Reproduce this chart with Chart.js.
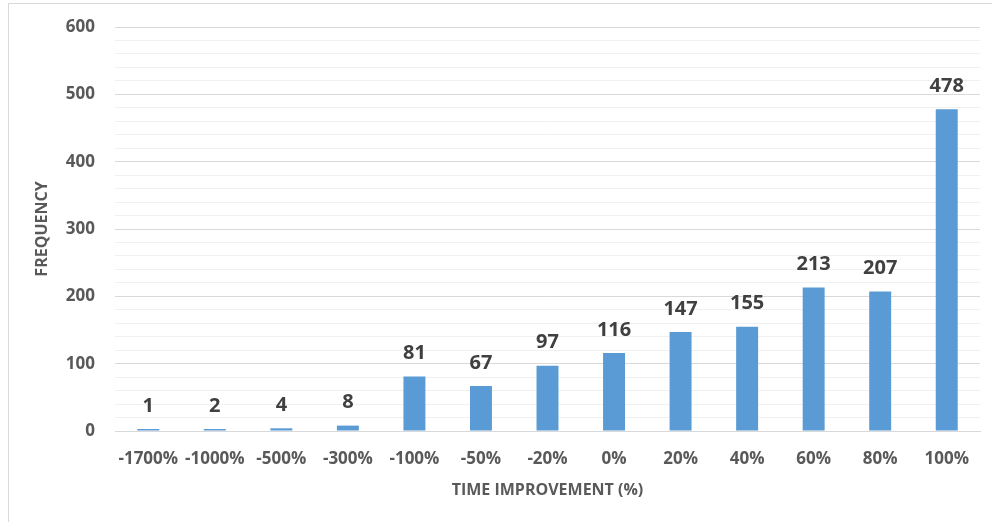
<!DOCTYPE html>
<html>
<head>
<meta charset="utf-8">
<title>Time improvement frequency</title>
<script src="https://cdn.jsdelivr.net/npm/chart.js@4.4.1/dist/chart.umd.min.js"></script>
<style>
  html, body { margin: 0; padding: 0; background: #ffffff; }
  #wrap { position: relative; width: 992px; height: 522px; }
</style>
</head>
<body>
<div id="wrap"><canvas id="chart" width="992" height="522"></canvas></div>
<script>
// Histogram buckets of time improvement and how many runs fell in each
const categories = ['-1700%', '-1000%', '-500%', '-300%', '-100%', '-50%', '-20%', '0%', '20%', '40%', '60%', '80%', '100%'];
const frequency = [1, 2, 4, 8, 81, 67, 97, 116, 147, 155, 213, 207, 478];
const yTicks = [0, 100, 200, 300, 400, 500, 600];

const xTitle = 'TIME IMPROVEMENT (%)';
const yTitle = 'FREQUENCY';

const axisFont = 'Open Sans';
const labelFont = 'Open Sans';

// Value above each bar
const valueLabels = {
  id: 'valueLabels',
  afterDatasetsDraw(chart) {
    const { ctx } = chart;
    const meta = chart.getDatasetMeta(0);
    ctx.save();
    ctx.font = 'bold 20px "' + labelFont + '"';
    ctx.fillStyle = '#404040';
    ctx.textAlign = 'center';
    ctx.textBaseline = 'middle';
    meta.data.forEach((bar, i) => {
      ctx.fillText(String(frequency[i]), bar.x, bar.y - 23);
    });
    ctx.restore();
  }
};

// Thin frame along the top and left edges of the chart
const frame = {
  id: 'frame',
  beforeDraw(chart) {
    const { ctx } = chart;
    ctx.save();
    ctx.strokeStyle = '#d9d9d9';
    ctx.lineWidth = 1;
    ctx.beginPath();
    ctx.moveTo(8.5, chart.height);
    ctx.lineTo(8.5, 3.5);
    ctx.lineTo(chart.width, 3.5);
    ctx.stroke();
    ctx.restore();
  }
};

function draw() {
  new Chart(document.getElementById('chart'), {
    type: 'bar',
    data: {
      labels: categories,
      datasets: [{
        data: frequency,
        backgroundColor: '#5b9bd5',
        borderWidth: 0,
        categoryPercentage: 1,
        barPercentage: 0.33,
        minBarLength: 2
      }]
    },
    options: {
      responsive: false,
      animation: false,
      devicePixelRatio: 1,
      layout: { padding: { left: 8, right: 12, top: 27, bottom: 0 } },
      plugins: {
        legend: { display: false },
        tooltip: { enabled: false }
      },
      scales: {
        x: {
          grid: { display: false, drawTicks: false },
          border: { display: true, color: '#d9d9d9', width: 1 },
          ticks: {
            color: '#595959',
            font: { family: axisFont, size: 17, weight: 'bold' },
            padding: 18,
            maxRotation: 0,
            autoSkip: false
          },
          title: {
            display: true,
            text: xTitle,
            color: '#595959',
            font: { family: axisFont, size: 16, weight: 'bold' },
            padding: { top: 0, bottom: 22 }
          },
          afterFit(scale) { scale.height = 91; }
        },
        y: {
          min: 0,
          max: 600,
          grid: {
            drawTicks: false,
            color: (c) => (yTicks.includes(c.tick.value) ? '#d9d9d9' : '#f0f0f0'),
            lineWidth: 1
          },
          border: { display: false },
          ticks: {
            stepSize: 20,
            autoSkip: false,
            color: '#595959',
            font: { family: axisFont, size: 17, weight: 'bold' },
            padding: 20,
            callback: (v) => (yTicks.includes(v) ? String(v) : '')
          },
          title: {
            display: true,
            text: yTitle,
            color: '#595959',
            font: { family: axisFont, size: 16, weight: 'bold' },
            padding: { top: 25, bottom: 0 }
          },
          afterFit(scale) {
            scale.width = 107;
            scale.paddingTop = 0;
            scale.paddingBottom = 0;
          }
        }
      }
    },
    plugins: [frame, valueLabels]
  });
}

Promise.all([
  document.fonts.load('bold 17px "' + axisFont + '"'),
  document.fonts.load('bold 20px "' + labelFont + '"')
]).then(draw, draw);
</script>
</body>
</html>
